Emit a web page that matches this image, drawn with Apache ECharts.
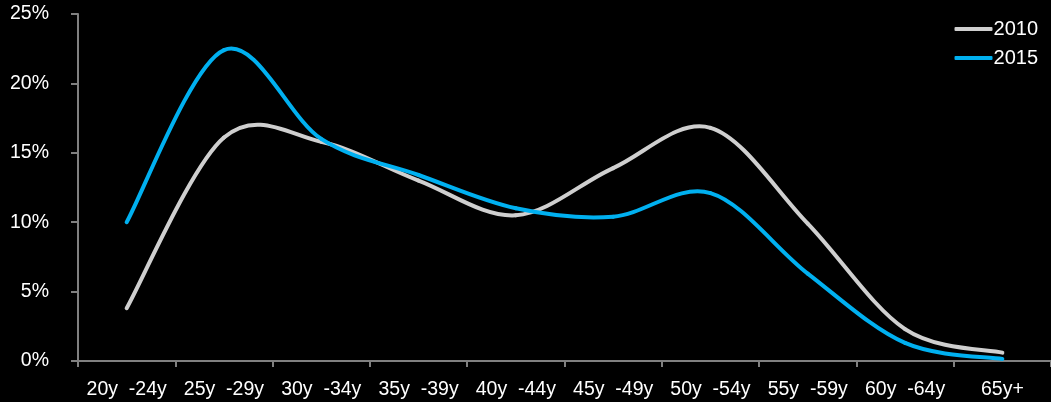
<!DOCTYPE html>
<html>
<head>
<meta charset="utf-8">
<script src="https://cdn.jsdelivr.net/npm/echarts@6/dist/echarts.min.js"></script>
<style>html,body{margin:0;padding:0;background:#000;}#c{width:1051px;height:402px;}</style>
</head>
<body>
<div id="c"></div>
<script>
const categories = ["20y  -24y", "25y  -29y", "30y  -34y", "35y  -39y", "40y  -44y", "45y  -49y", "50y  -54y", "55y  -59y", "60y  -64y", "65y+"];
const values2010 = [3.8, 16.1, 15.8, 13.0, 10.5, 13.9, 16.8, 9.9, 2.3, 0.6];
const values2015 = [10.0, 22.4, 16.0, 13.4, 11.0, 10.4, 12.1, 6.3, 1.3, 0.15];
const seriesNames = ["2010", "2015"];
const seriesColors = ['#cfcfcf', '#00b0f0'];

const FONT = '"Liberation Sans", Arial, sans-serif';

// Catmull-Rom style smoothing (like spreadsheet smoothed lines), positions via the axis scales
function smoothRenderer(values, color) {
  return function (params, api) {
    const i = params.dataIndex;
    if (i >= values.length - 1) return null;
    const clampIdx = (k) => Math.max(0, Math.min(values.length - 1, k));
    const p = (k) => api.coord([clampIdx(k), values[clampIdx(k)]]);
    const p0 = p(i - 1), p1 = p(i), p2 = p(i + 1), p3 = p(i + 2);
    const t = 1 / 6;
    return {
      type: 'bezierCurve',
      shape: {
        x1: p1[0], y1: p1[1], x2: p2[0], y2: p2[1],
        cpx1: p1[0] + (p2[0] - p0[0]) * t, cpy1: p1[1] + (p2[1] - p0[1]) * t,
        cpx2: p2[0] - (p3[0] - p1[0]) * t, cpy2: p2[1] - (p3[1] - p1[1]) * t
      },
      style: {stroke: color, lineWidth: 4, fill: null, lineCap: 'round'}
    };
  };
}

const chart = echarts.init(document.getElementById('c'), null, {renderer: 'canvas'});
chart.setOption({
  backgroundColor: '#000',
  animation: false,
  grid: {left: 78, top: 14, width: 979, bottom: 41, containLabel: false},
  legend: {
    orient: 'vertical', right: 8, top: 14, itemGap: 9,
    itemWidth: 38, itemHeight: 4, icon: 'roundRect',
    textStyle: {color: '#fff', fontFamily: FONT, fontSize: 20, lineHeight: 19, padding: [0, 0, 0, -4]},
    data: seriesNames
  },
  xAxis: {
    type: 'category', data: categories, boundaryGap: true,
    axisLine: {lineStyle: {color: '#808080', width: 2}},
    axisTick: {show: true, length: 6, lineStyle: {color: '#808080', width: 2}},
    axisLabel: {color: '#fff', fontFamily: FONT, fontSize: 19.5, margin: 19, interval: 0},
    splitLine: {show: false}
  },
  yAxis: {
    type: 'value', min: 0, max: 25, interval: 5,
    axisLine: {show: true, lineStyle: {color: '#808080', width: 2}},
    axisTick: {show: true, length: 7, lineStyle: {color: '#808080', width: 2}},
    axisLabel: {color: '#fff', fontFamily: FONT, fontSize: 19.5, margin: 29, formatter: '{value}%'},
    splitLine: {show: false}
  },
  series: [
    {name: seriesNames[0], type: 'custom', data: values2010.map((v, i) => [i, v]),
     itemStyle: {color: seriesColors[0]}, renderItem: smoothRenderer(values2010, seriesColors[0]), encode: {x: 0, y: 1}},
    {name: seriesNames[1], type: 'custom', data: values2015.map((v, i) => [i, v]),
     itemStyle: {color: seriesColors[1]}, renderItem: smoothRenderer(values2015, seriesColors[1]), encode: {x: 0, y: 1}}
  ]
});
</script>
</body>
</html>
